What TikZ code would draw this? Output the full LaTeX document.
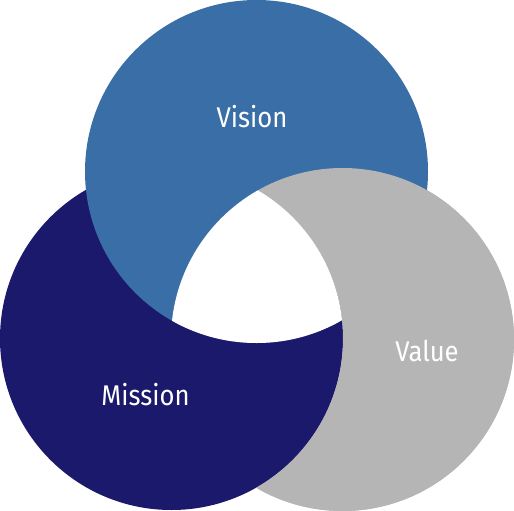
\documentclass[tikz,border=0pt]{standalone}
\usepackage{fontspec}
\newfontfamily\labelfont{Fira Sans}[FakeStretch=0.9]
\usetikzlibrary{positioning}
\definecolor{visionblue}{RGB}{58,110,166}
\definecolor{missionnavy}{RGB}{27,25,108}
\definecolor{valuegray}{RGB}{181,181,181}

\begin{document}
\begin{tikzpicture}[x=1pt,y=-1pt,
  lbl/.style={text=white,font=\labelfont\fontsize{28.5}{28.5}\selectfont,anchor=base,inner sep=0pt},
  ring/.style={radius=171.5pt}]
\useasboundingbox (0,0) rectangle (514,511);
\coordinate (vis) at (256.5,171.5);
\coordinate (mis) at (171.5,338.5);
\coordinate (val) at (342.5,339.5);
% three discs, each one lying over the next
\fill[valuegray] (val) circle[ring];
\fill[missionnavy] (mis) circle[ring];
\fill[visionblue] (vis) circle[ring];
\begin{scope}[even odd rule]
  \clip (mis) circle[ring] (-20,-20) rectangle (540,540);
  \fill[valuegray] (val) circle[ring];
\end{scope}
% middle stays empty
\begin{scope}
  \clip (vis) circle[ring];
  \clip (mis) circle[ring];
  \fill[white] (val) circle[ring];
\end{scope}
\node[lbl] (vision) at (252,127) {Vision};
\node[lbl] (value) at (427,361) {Value};
\node[lbl] (mission) at (145.5,405.5) {Mission};
\end{tikzpicture}
\end{document}
